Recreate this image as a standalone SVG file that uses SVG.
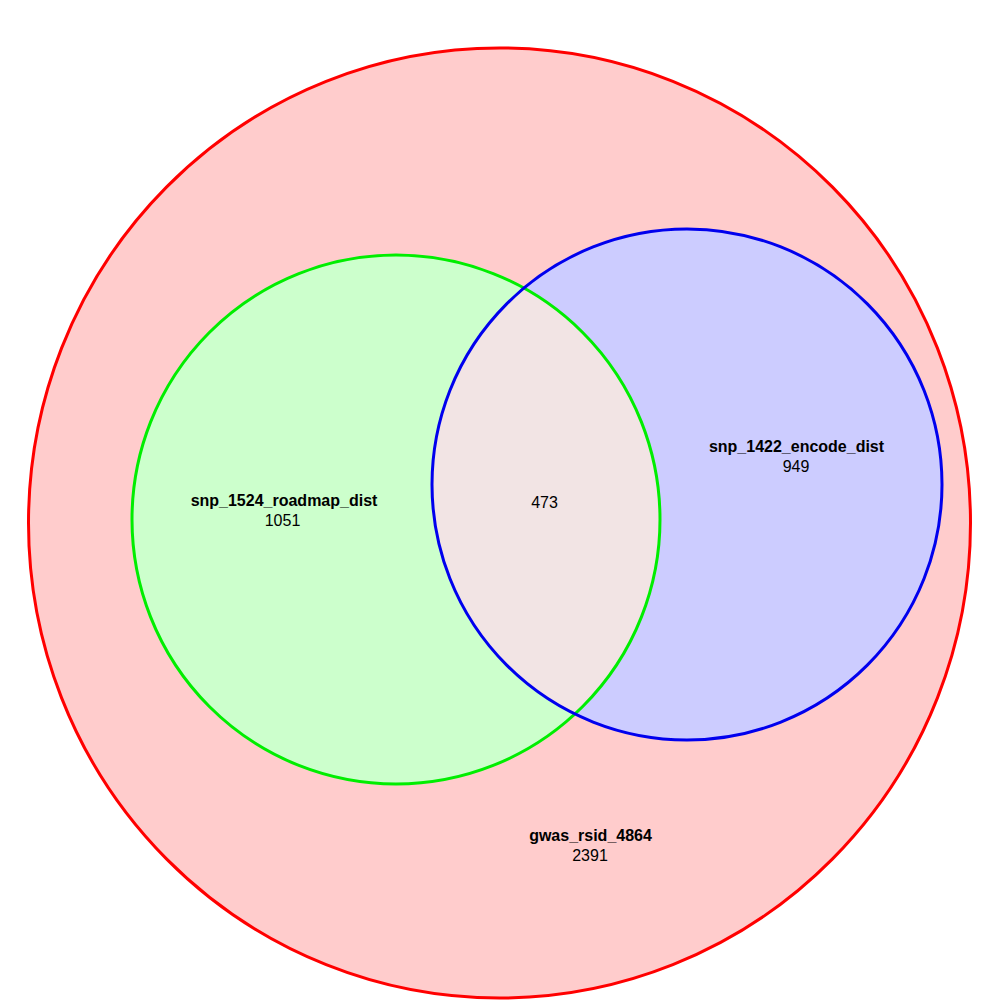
<svg xmlns="http://www.w3.org/2000/svg" width="1000" height="1000" viewBox="0 0 1000 1000">
  <style>
    .lbl { font-family: "Liberation Sans", Arial, sans-serif; font-size: 16px; font-weight: bold; fill: #000; text-anchor: middle; }
    .num { font-family: "Liberation Sans", Arial, sans-serif; font-size: 16px; fill: #000; text-anchor: middle; }
  </style>
  <defs>
    <clipPath id="clipGreen">
      <ellipse cx="396" cy="519.5" rx="264" ry="264.5"/>
    </clipPath>
  </defs>
  <rect width="1000" height="1000" fill="#ffffff"/>
  <!-- outer set -->
  <g id="gwas">
    <ellipse cx="499.5" cy="523" rx="471" ry="475" fill="#FFCCCC" stroke="#FF0000" stroke-width="3"/>
  </g>
  <!-- left set -->
  <g id="roadmap">
    <ellipse cx="396" cy="519.5" rx="264" ry="264.5" fill="#CCFFCC"/>
  </g>
  <!-- right set -->
  <g id="encode">
    <ellipse cx="687" cy="484.5" rx="255" ry="255.5" fill="#CCCCFF"/>
  </g>
  <!-- overlap of left and right sets -->
  <g id="overlap">
    <ellipse cx="687" cy="484.5" rx="255" ry="255.5" fill="#F2E4E4" clip-path="url(#clipGreen)"/>
  </g>
  <!-- outlines -->
  <g id="outlines" fill="none" stroke-width="3">
    <ellipse cx="396" cy="519.5" rx="264" ry="264.5" stroke="#00EE00"/>
    <ellipse cx="687" cy="484.5" rx="255" ry="255.5" stroke="#0000EE"/>
  </g>
  <!-- labels and counts -->
  <g id="labels">
    <text class="lbl" x="284" y="506">snp_1524_roadmap_dist</text>
    <text class="num" x="282.5" y="526">1051</text>
    <text class="lbl" x="796.5" y="452">snp_1422_encode_dist</text>
    <text class="num" x="796" y="472">949</text>
    <text class="num" x="544.5" y="508">473</text>
    <text class="lbl" x="590.5" y="841">gwas_rsid_4864</text>
    <text class="num" x="590" y="861">2391</text>
  </g>
</svg>
